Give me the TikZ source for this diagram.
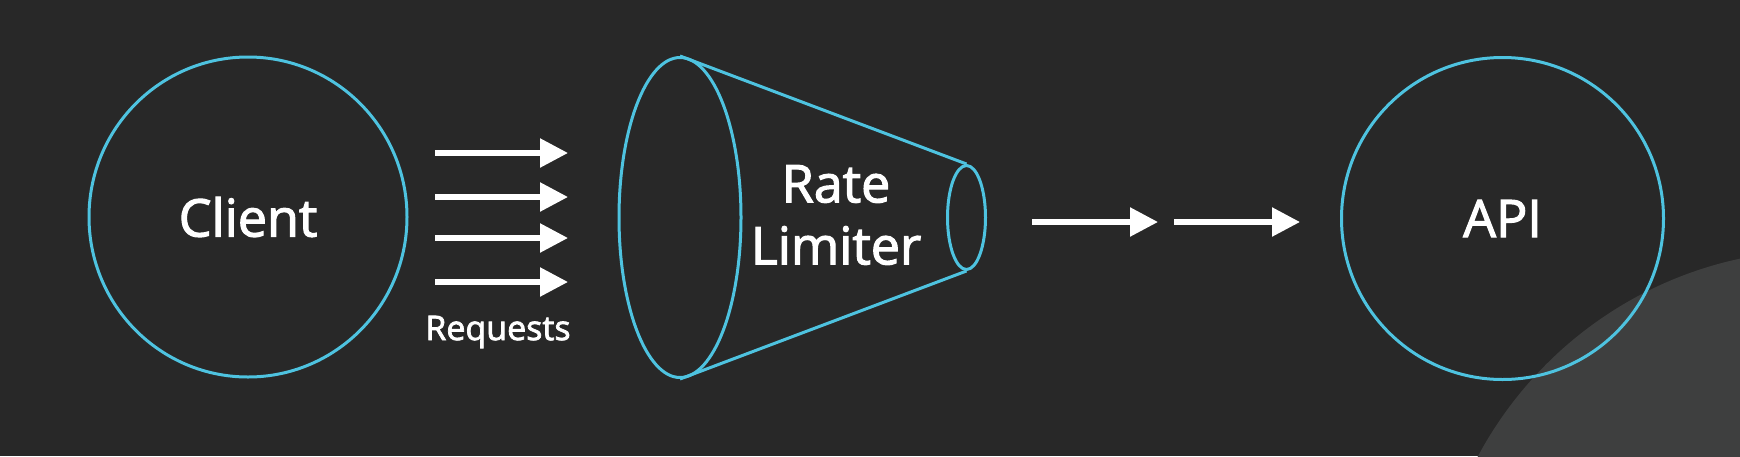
\documentclass[tikz,border=0pt]{standalone}
\usepackage{fontspec}
\setmainfont{Open Sans}
\newfontfamily\lblfont[FakeBold=2.2]{Open Sans}
\usetikzlibrary{shapes.geometric,arrows.meta}
\definecolor{bg}{HTML}{282828}
\definecolor{blob}{HTML}{3E3F3F}
\definecolor{cy}{HTML}{4EC3E0}
\tikzset{
  ring/.style={draw=cy, line width=3pt, ellipse, inner sep=0pt, text=white},
  bigtxt/.style={font=\lblfont\fontsize{52}{62}\selectfont},
  flow/.style={draw=white, line width=5.5pt, -{Triangle[length=28pt,width=28pt]}},
}
\begin{document}
\begin{tikzpicture}[x=1pt,y=-1pt]
\useasboundingbox (0,0) rectangle (1740,456);
\fill[bg] (0,0) rectangle (1740,456);
\begin{scope}
\clip (0,0) rectangle (1740,456);
\fill[blob] (1822,640) circle (390);
\end{scope}
% Client
\node[ring, minimum width=318pt, minimum height=320pt, bigtxt] (client) at (248,217) {Client};
% request arrows
\foreach \y/\n in {153/a,197/b,238/c,282/d}{
  \coordinate (r\n s) at (435,\y);
  \coordinate (r\n e) at (568,\y);
  \draw[flow] (r\n s) -- (r\n e);
}
\node[text=white, font=\lblfont\fontsize{34}{40}\selectfont] (req) at (498,332) {Requests};
% funnel
\node[ring, minimum width=122pt, minimum height=320pt] (big) at (680,217.5) {};
\node[ring, minimum width=38pt, minimum height=104pt] (small) at (966.5,217.5) {};
\draw[cy, line width=3pt] (big.north) -- (small.north);
\draw[cy, line width=3pt] (big.south) -- (small.south);
\node[text=white, align=center, bigtxt] (rl) at (836,215) {Rate\\Limiter};
% API
\node[ring, minimum width=322pt, minimum height=322pt, bigtxt] (api) at (1502.5,218.5) {API};
% output arrows
\coordinate (o1s) at (1032,222);
\coordinate (o1e) at (1158,222);
\coordinate (o2s) at (1174,222);
\coordinate (o2e) at (1300,222);
\draw[flow] (o1s) -- (o1e);
\draw[flow] (o2s) -- (o2e);
\end{tikzpicture}
\end{document}
